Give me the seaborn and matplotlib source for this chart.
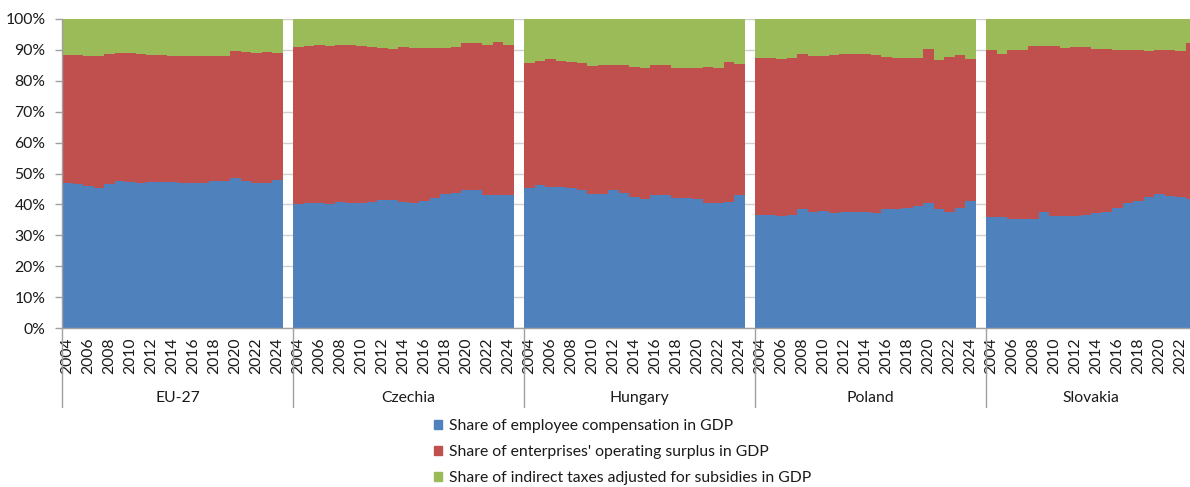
import matplotlib
matplotlib.use("Agg")
import matplotlib.pyplot as plt
import numpy as np
import pandas as pd
import seaborn as sns
from matplotlib.patches import Patch
from matplotlib.transforms import blended_transform_factory

# ---------------- data ----------------
COUNTRIES = ["EU-27", "Czechia", "Hungary", "Poland", "Slovakia"]
FIRST_YEAR = 2004
SERIES = ["Share of employee compensation in GDP",
          "Share of enterprises' operating surplus in GDP",
          "Share of indirect taxes adjusted for subsidies in GDP"]

EU_EMP = [46.8, 46.5, 45.8, 45.4, 46.5, 47.7, 47.3, 47.0, 47.3, 47.4, 47.3, 46.8, 47.0, 47.0, 47.5, 47.6, 48.7, 47.5, 46.8, 47.0, 47.8]
EU_SUR = [41.6, 41.8, 42.2, 42.6, 42.2, 41.4, 41.6, 41.6, 41.1, 41.0, 40.8, 41.3, 41.1, 41.1, 40.6, 40.5, 40.9, 41.8, 42.2, 42.2, 41.2]
EU_TAX = [11.6, 11.7, 12.0, 12.0, 11.3, 10.9, 11.1, 11.4, 11.6, 11.6, 11.9, 11.9, 11.9, 11.9, 11.9, 11.9, 10.4, 10.7, 11.0, 10.8, 11.0]

CZ_EMP = [40.1, 40.3, 40.3, 40.1, 40.9, 40.5, 40.5, 40.9, 41.4, 41.4, 40.8, 40.4, 41.1, 42.0, 43.5, 43.7, 44.8, 44.6, 43.0, 42.9, 43.1]
CZ_SUR = [50.8, 50.9, 51.3, 51.2, 50.6, 51.0, 50.8, 50.0, 49.1, 48.9, 50.3, 50.3, 49.4, 48.5, 47.2, 47.1, 47.5, 47.7, 48.6, 49.5, 48.5]
CZ_TAX = [9.1, 8.8, 8.4, 8.7, 8.5, 8.5, 8.7, 9.1, 9.5, 9.7, 8.9, 9.3, 9.5, 9.5, 9.3, 9.2, 7.7, 7.7, 8.4, 7.6, 8.4]

HU_EMP = [45.4, 46.2, 45.5, 45.5, 45.2, 44.8, 43.5, 43.5, 44.7, 43.7, 42.5, 41.8, 42.9, 42.9, 42.1, 42.1, 41.6, 40.4, 40.3, 40.9, 42.9]
HU_SUR = [40.3, 40.2, 41.7, 40.8, 41.0, 41.0, 41.3, 41.7, 40.3, 41.3, 42.1, 42.5, 42.1, 42.1, 42.1, 42.0, 42.7, 44.0, 43.9, 45.2, 42.6]
HU_TAX = [14.3, 13.6, 12.8, 13.7, 13.8, 14.2, 15.2, 14.8, 15.0, 15.0, 15.4, 15.7, 15.0, 15.0, 15.8, 15.9, 15.7, 15.6, 15.8, 13.9, 14.5]

PL_EMP = [36.6, 36.6, 36.4, 36.7, 38.4, 37.5, 38.0, 37.1, 37.5, 37.7, 37.7, 37.1, 38.4, 38.5, 38.8, 39.5, 40.3, 38.4, 37.5, 38.9, 41.2]
PL_SUR = [50.9, 50.9, 50.6, 50.6, 50.4, 50.4, 49.9, 51.2, 51.1, 50.9, 50.9, 51.3, 49.3, 48.9, 48.7, 48.0, 50.1, 48.4, 50.3, 49.5, 45.8]
PL_TAX = [12.5, 12.5, 13.0, 12.7, 11.2, 12.1, 12.1, 11.7, 11.4, 11.4, 11.4, 11.6, 12.3, 12.6, 12.5, 12.5, 9.6, 13.2, 12.2, 11.6, 13.0]

SK_EMP = [35.9, 36.0, 35.4, 35.2, 35.2, 37.5, 36.2, 36.3, 36.3, 36.7, 37.1, 37.7, 38.9, 40.4, 41.2, 42.5, 43.3, 42.6, 42.3, 41.6]
SK_SUR = [54.0, 52.8, 54.7, 54.9, 56.0, 53.7, 55.2, 54.4, 54.8, 54.1, 53.3, 52.7, 51.2, 49.5, 48.7, 47.1, 46.8, 47.5, 47.5, 50.5]
SK_TAX = [10.1, 11.2, 9.9, 9.9, 8.8, 8.8, 8.6, 9.3, 8.9, 9.2, 9.6, 9.6, 9.9, 10.1, 10.1, 10.4, 9.9, 9.9, 10.2, 7.9]

YTICKS = [0, 10, 20, 30, 40, 50, 60, 70, 80, 90, 100]

# ---------------- styling ----------------
COLORS = ["#4F81BD", "#C0504D", "#9BBB59"]
GRID = "#D0D0D0"
AXC = "#A0A0A0"
TXT = "#1a1a1a"
FS = 11.3

sns.set_theme(style="white")
plt.rcParams["font.family"] = ["Lato", "DejaVu Sans"]

groups = [(EU_EMP, EU_SUR, EU_TAX), (CZ_EMP, CZ_SUR, CZ_TAX), (HU_EMP, HU_SUR, HU_TAX),
          (PL_EMP, PL_SUR, PL_TAX), (SK_EMP, SK_SUR, SK_TAX)]
SLOTS = 22  # 21 years + one blank slot per group

rows = []
for gi, (country, (emp, sur, tax)) in enumerate(zip(COUNTRIES, groups)):
    for k in range(len(emp)):
        rows.append(dict(country=country, year=FIRST_YEAR + k, pos=gi * SLOTS + k,
                         emp=emp[k], sur=sur[k], tax=tax[k]))
df = pd.DataFrame(rows)
df["c1"] = df["emp"]
df["c2"] = df["emp"] + df["sur"]
df["c3"] = df["emp"] + df["sur"] + df["tax"]

fig = plt.figure(figsize=(11.9, 4.87), dpi=100)
ax = fig.add_axes([62 / 1190, 1 - 328 / 487, 1 - 62 / 1190, 309 / 487])

ax.set_axisbelow(True)
for y in YTICKS:
    ax.axhline(y, color=GRID, lw=1.0, zorder=0)

for col, color in zip(["c3", "c2", "c1"], COLORS[::-1]):
    sns.barplot(data=df, x="pos", y=col, native_scale=True, color=color, width=1.0,
                errorbar=None, ax=ax, linewidth=0, saturation=1, antialiased=False)

ax.set_xlim(-0.5, 106.9)
ax.set_ylim(0, 100)
ax.set_yticks(YTICKS)
ax.set_yticklabels([f"{v}%" for v in YTICKS], fontsize=FS, color=TXT)
ax.tick_params(axis="y", length=5, width=1, color=AXC, pad=7, left=True)

xt, xl = [], []
for gi, (emp, _, _) in enumerate(groups):
    for k in range(0, len(emp), 2):
        if gi * SLOTS + k < 106.9:
            xt.append(gi * SLOTS + k)
            xl.append(str(FIRST_YEAR + k))
ax.set_xticks(xt)
ax.set_xticklabels(xl, rotation=90, fontsize=FS, color=TXT)
ax.tick_params(axis="x", length=0, pad=7)
ax.set_xlabel("")
ax.set_ylabel("")

for s in ["top", "right"]:
    ax.spines[s].set_visible(False)
for s in ["left", "bottom"]:
    ax.spines[s].set_color(AXC)
    ax.spines[s].set_linewidth(1.0)

trans = blended_transform_factory(ax.transData, ax.transAxes)
for gi, (emp, _, _) in enumerate(groups):
    start = gi * SLOTS - 0.5
    ax.plot([start, start], [0, -0.256], transform=trans, color=AXC, lw=1.0, clip_on=False)
    span = len(emp) + (1 if gi < len(groups) - 1 else 0)
    ax.text(start + span / 2, -0.226, COUNTRIES[gi], transform=trans, ha="center", va="center",
            fontsize=FS, color=TXT)

handles = [Patch(facecolor=c, edgecolor=c) for c in COLORS]
fig.legend(handles, SERIES, loc="upper left", bbox_to_anchor=(434 / 1190, 1 - 419 / 487),
           frameon=False, fontsize=FS, handlelength=0.52, handleheight=0.52,
           handletextpad=0.45, labelspacing=0.78, borderpad=0, borderaxespad=0,
           labelcolor=TXT)

fig.savefig("out.png", dpi=100)
